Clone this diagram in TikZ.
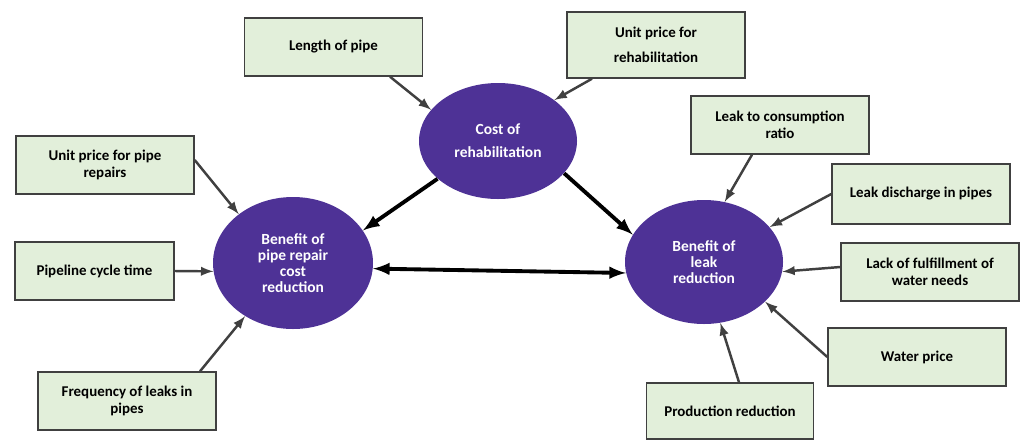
\documentclass[tikz,border=0pt]{standalone}
\usepackage{fontspec}
\setmainfont{Carlito}
\usetikzlibrary{arrows,shapes,positioning}
\usepackage{xcolor}

\definecolor{boxgreen}{RGB}{226,239,218}
\definecolor{boxline}{RGB}{64,64,64}
\definecolor{ovalpurple}{RGB}{78,50,150}

\tikzset{
  factor/.style={draw=boxline, fill=boxgreen, line width=0.8pt, minimum width=3.56cm,
    minimum height=1.16cm, inner sep=2pt, align=center, font=\fontsize{8.5}{9.5}\selectfont\bfseries},
  benefit/.style={ellipse, fill=ovalpurple, text=white, inner sep=0pt, align=center,
    font=\fontsize{8.8}{9}\selectfont\bfseries},
  infl/.style={-latex, draw=boxline, line width=1.4pt},
  mainlink/.style={-latex, draw=black, line width=2.2pt},
}

\begin{document}
\begin{tikzpicture}
\useasboundingbox (0,0) rectangle (20.44,8.82);

% the three ovals
\node[benefit, minimum width=3.16cm, minimum height=2.32cm] (cost) at (9.96,6.00) {Cost of\\[4pt] rehabilitation};
\node[benefit, minimum width=3.20cm, minimum height=2.64cm] (bprc) at (5.86,3.56) {Benefit of\\ pipe repair\\ cost\\ reduction};
\node[benefit, minimum width=3.16cm, minimum height=2.48cm] (blr) at (14.08,3.58) {Benefit of\\ leak\\ reduction};

% factors
\node[factor] (lop) at (6.67,7.88) {Length of pipe};
\node[factor, minimum height=1.32cm] (uprehab) at (13.12,7.92) {Unit price for\\[5pt] rehabilitation};
\node[factor] (uprep) at (2.10,5.52) {Unit price for pipe\\ repairs};
\node[factor, minimum width=3.18cm] (pct) at (1.89,3.40) {Pipeline cycle time};
\node[factor] (freq) at (2.54,0.80) {Frequency of leaks in\\ pipes};
\node[factor] (l2c) at (15.60,6.32) {Leak to consumption\\ ratio};
\node[factor, minimum height=1.20cm] (ldis) at (18.42,4.94) {Leak discharge in pipes};
\node[factor] (lack) at (18.60,3.38) {Lack of fulfillment of\\ water needs};
\node[factor] (wp) at (18.34,1.68) {Water price};
\node[factor, minimum width=3.34cm, minimum height=1.12cm] (prod) at (14.60,0.60) {Production reduction};

% influences
\draw[infl] ([xshift=1.13cm]lop.south) -- (cost.155);
\draw[infl] ([xshift=-1.28cm]uprehab.south) -- (cost.36);
\draw[infl] ([yshift=0.1cm]uprep.east) -- (bprc.138);
\draw[infl] (pct.east) -- (bprc.186);
\draw[infl] ([xshift=1.46cm]freq.north) -- (bprc.228);
\draw[infl] ([xshift=-0.56cm]l2c.south) -- (blr.71);
\draw[infl] (ldis.west) -- (blr.28);
\draw[infl] ([yshift=0.1cm]lack.west) -- (blr.353);
\draw[infl] (wp.west) -- (blr.327);
\draw[infl] ([xshift=0.18cm]prod.north) -- (blr.285);

% main links
\draw[mainlink] (cost.212) -- (bprc.25);
\draw[mainlink] (cost.334) -- (blr.159);
\draw[mainlink, latex-latex] (bprc.-4) -- (blr.188);

\end{tikzpicture}
\end{document}
